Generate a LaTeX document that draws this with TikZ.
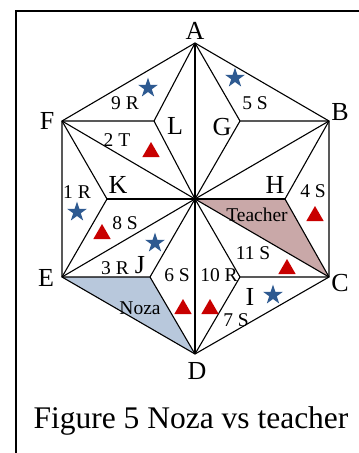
\documentclass[tikz,border=0pt]{standalone}
\usepackage{fontspec}
\setmainfont{Liberation Serif}
\usetikzlibrary{shapes.geometric}
\definecolor{starblue}{RGB}{46,90,145}
\definecolor{trired}{RGB}{200,0,0}
\definecolor{teacherfill}{RGB}{201,168,168}
\definecolor{nozafill}{RGB}{184,200,220}
\begin{document}
\begin{tikzpicture}[x=1pt,y=-1pt,
    edge/.style={line width=1.1pt, line join=round},
    vlabel/.style={font=\fontsize{26}{26}\selectfont, inner sep=0pt},
    slabel/.style={font=\fontsize{19.5}{19.5}\selectfont, inner sep=0pt},
    bluestar/.style={star, star points=5, star point ratio=2.618, fill=starblue, inner sep=0pt, minimum size=21pt},
    redtri/.style={regular polygon, regular polygon sides=3, fill=trired, inner sep=0pt, minimum size=20pt}]
    \useasboundingbox (0,0) rectangle (359,453);

    % Frame
    \draw[line width=1.5pt] (16,453) -- (16,11) -- (359,11);

    % Points
    \coordinate (O) at (195,199);
    \coordinate (A) at (195,43);
    \coordinate (B) at (329,121);
    \coordinate (C) at (329,277);
    \coordinate (D) at (195,354);
    \coordinate (E) at (62,277);
    \coordinate (F) at (62,121);
    \coordinate (L) at (154,121);
    \coordinate (G) at (240,121);
    \coordinate (K) at (107,199);
    \coordinate (H) at (285,199);
    \coordinate (J) at (150,277);
    \coordinate (I) at (240,277);

    % Shaded regions
    \fill[nozafill] (E) -- (J) -- (D) -- cycle;
    \fill[teacherfill] (O) -- (H) -- (C) -- cycle;

    % Hexagon
    \draw[edge] (A) -- (B) -- (C) -- (D) -- (E) -- (F) -- cycle;

    % Spokes from the centre
    \foreach \p in {A,B,C,D,E,F,G,H,I,J,K,L} {
        \draw[edge] (O) -- (\p);
    }

    % Inner zigzag
    \draw[edge] (A) -- (L) -- (F) -- (K) -- (E) -- (J) -- (D) -- (I) -- (C) -- (H) -- (B) -- (G) -- cycle;

    % Vertex labels
    \node[vlabel] (lA) at (195,31) {A};
    \node[vlabel] (lB) at (340,112) {B};
    \node[vlabel] (lC) at (340,283) {C};
    \node[vlabel] (lD) at (197,371) {D};
    \node[vlabel] (lE) at (46,278) {E};
    \node[vlabel] (lF) at (47,121) {F};
    \node[vlabel] (lL) at (175,126) {L};
    \node[vlabel] (lG) at (222,127) {G};
    \node[vlabel] (lK) at (118,185) {K};
    \node[vlabel] (lH) at (275,185) {H};
    \node[vlabel] (lJ) at (140,265) {J};
    \node[vlabel] (lI) at (250,297) {I};

    % Moves
    \node[slabel] (m9) at (125,103) {9 R};
    \node[slabel] (m5) at (255,103) {5 S};
    \node[slabel] (m2) at (117,140) {2 T};
    \node[slabel] (m1) at (77,192) {1 R};
    \node[slabel] (m8) at (125,223) {8 S};
    \node[slabel] (m3) at (115,268) {3 R};
    \node[slabel] (m6) at (177,275) {6 S};
    \node[slabel] (m10) at (219,275) {10 R};
    \node[slabel] (m11) at (253,253) {11 S};
    \node[slabel] (m4) at (313,191) {4 S};
    \node[slabel] (m7) at (236,320) {7 S};
    \node[slabel] (teacher) at (257,215) {Teacher};
    \node[slabel] (noza) at (140,308) {Noza};

    % Stars
    \node[bluestar] (s1) at (148,88) {};
    \node[bluestar] (s2) at (235,78) {};
    \node[bluestar] (s3) at (77,212) {};
    \node[bluestar] (s4) at (155,243) {};
    \node[bluestar] (s5) at (273,295) {};

    % Triangles
    \node[redtri] (t1) at (151,152) {};
    \node[redtri] (t2) at (102,234) {};
    \node[redtri] (t3) at (315,216) {};
    \node[redtri] (t4) at (287,269) {};
    \node[redtri] (t5) at (183,309) {};
    \node[redtri] (t6) at (210,309) {};

    % Caption
    \node[font=\fontsize{31.5}{31.5}\selectfont, anchor=base] (cap) at (191,428) {Figure 5 Noza vs teacher};
\end{tikzpicture}
\end{document}
